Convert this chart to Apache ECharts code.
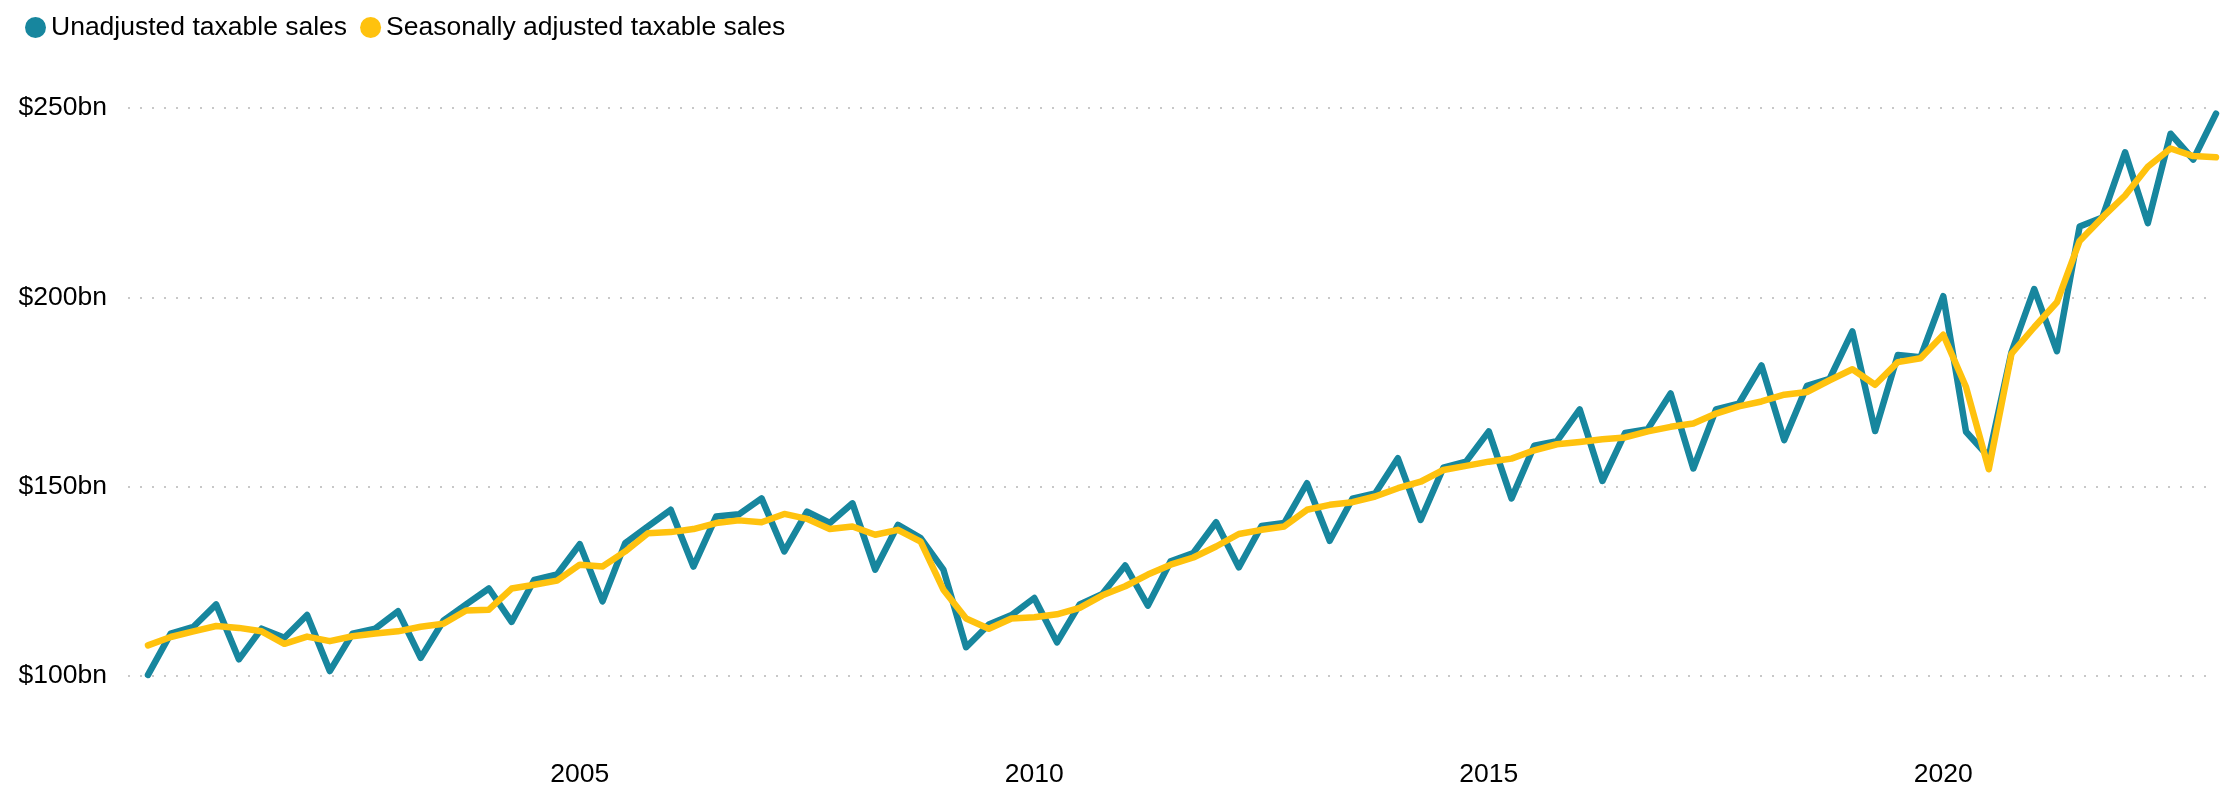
<!DOCTYPE html>
<html>
<head>
<meta charset="utf-8">
<script src="https://cdn.jsdelivr.net/npm/echarts@6/dist/echarts.min.js"></script>
<style>
  html, body { margin: 0; padding: 0; background: #fff; }
  #chart { width: 2227px; height: 788px; }
</style>
</head>
<body>
<div id="chart"></div>
<script>
// quarterly taxable sales, $bn, 2000 Q1 .. 2022 Q4
const startYear = 2000;
const yearLabels = [2005, 2010, 2015, 2020];
const yTicks = [100, 150, 200, 250];

const unadjusted = [
  100.3, 111.2, 113.0, 118.9,
  104.4, 112.5, 110.1, 116.1,
  101.3, 111.2, 112.5, 117.1,
  104.8, 114.6, 118.9, 123.1,
  114.3, 125.4, 126.8, 134.8,
  119.7, 135.1, 139.5, 143.9,
  128.9, 142.1, 142.7, 146.9,
  132.9, 143.4, 140.4, 145.6,
  128.1, 139.9, 136.4, 128.1,
  107.6, 113.6, 116.1, 120.6,
  108.9, 118.9, 121.7, 129.2,
  118.6, 130.3, 132.5, 140.6,
  128.7, 139.6, 140.4, 150.9,
  135.7, 146.8, 148.2, 157.5,
  141.2, 155.0, 156.6, 164.6,
  146.9, 160.8, 162.0, 170.4,
  151.5, 164.2, 165.2, 174.6,
  154.8, 170.4, 171.9, 182.0,
  162.3, 176.6, 178.5, 191.0,
  164.7, 184.8, 184.2, 200.3,
  164.5, 157.9, 185.5, 202.2,
  185.8, 218.7, 221.1, 238.3,
  219.6, 243.2, 236.4, 248.5
];

const adjusted = [
  108.1, 110.3, 111.8, 113.2,
  112.7, 111.8, 108.5, 110.4,
  109.2, 110.5, 111.2, 111.8,
  113.0, 113.8, 117.3, 117.5,
  123.1, 124.1, 125.2, 129.4,
  128.9, 132.9, 137.7, 138.0,
  138.8, 140.4, 141.1, 140.6,
  142.8, 141.5, 138.8, 139.5,
  137.3, 138.6, 135.5, 122.8,
  115.2, 112.5, 115.2, 115.5,
  116.3, 118.0, 121.3, 123.7,
  126.8, 129.4, 131.3, 134.2,
  137.5, 138.6, 139.5, 143.9,
  145.2, 145.9, 147.4, 149.6,
  151.3, 154.4, 155.5, 156.6,
  157.4, 159.6, 161.2, 161.8,
  162.5, 163.0, 164.6, 165.8,
  166.7, 169.3, 171.2, 172.5,
  174.3, 175.0, 178.1, 181.0,
  176.9, 182.9, 183.9, 190.1,
  176.3, 154.6, 185.1, 192.1,
  198.7, 214.9, 221.1, 226.9,
  234.5, 239.3, 237.3, 237.0
];

// x position of each quarter = end of that quarter, in years
const quarterEnd = unadjusted.map((v, i) => startYear + (i + 1) / 4);

const font = "'Liberation Sans', Arial, sans-serif";
const fontSize = 26.5;
const chart = echarts.init(document.getElementById('chart'));

chart.setOption({
  animation: false,
  textStyle: { fontFamily: font },
  legend: {
    left: 20,
    top: 9,
    icon: 'circle',
    itemWidth: 21,
    itemHeight: 21,
    itemGap: 13,
    textStyle: { fontSize: fontSize, color: '#000', fontFamily: font },
    data: ['Unadjusted taxable sales', 'Seasonally adjusted taxable sales']
  },
  grid: {
    left: 128,
    right: 11,
    top: 108,
    bottom: 110,
    containLabel: false
  },
  xAxis: {
    type: 'value',
    min: 2000.03,
    max: 2023,
    axisLine: { show: false },
    axisTick: { show: false },
    splitLine: { show: false },
    axisLabel: {
      customValues: yearLabels,
      formatter: v => String(v),
      fontSize: fontSize,
      color: '#000',
      margin: 85
    }
  },
  yAxis: {
    type: 'value',
    min: yTicks[0],
    max: yTicks[yTicks.length - 1],
    interval: 50,
    axisLine: { show: false },
    axisTick: { show: false },
    axisLabel: {
      formatter: '${value}bn',
      fontSize: fontSize,
      color: '#000',
      margin: 21
    },
    splitLine: {
      lineStyle: { color: '#c8c8c8', width: 2, type: [2, 10] }
    }
  },
  series: [
    {
      name: 'Unadjusted taxable sales',
      type: 'line',
      showSymbol: false,
      color: '#17869e',
      lineStyle: { width: 6.5, cap: 'round', join: 'round' },
      data: unadjusted.map((v, i) => [quarterEnd[i], v])
    },
    {
      name: 'Seasonally adjusted taxable sales',
      type: 'line',
      showSymbol: false,
      color: '#ffc20e',
      lineStyle: { width: 6.5, cap: 'round', join: 'round' },
      data: adjusted.map((v, i) => [quarterEnd[i], v])
    }
  ]
});
</script>
</body>
</html>
